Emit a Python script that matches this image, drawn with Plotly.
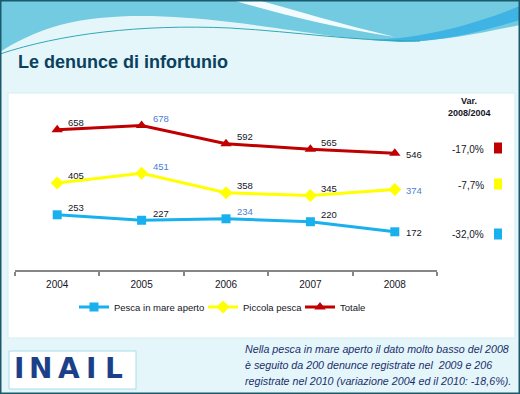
import plotly.graph_objects as go

W, H = 520, 394

years = ["2004", "2005", "2006", "2007", "2008"]
pesca_mare = [253, 227, 234, 220, 172]
piccola_pesca = [405, 451, 358, 345, 374]
totale = [658, 678, 592, 565, 546]

BLK = "#15151f"
BLU = "#4a7fd4"
lab_col_pesca = [BLK, BLK, BLU, BLK, BLK]
lab_col_piccola = [BLK, BLU, BLK, BLK, BLU]
lab_col_tot = [BLK, BLU, BLK, BLK, BLK]

title_text = "Le denunce di infortunio"
note_lines = [
    "Nella pesca in mare aperto il dato molto basso del 2008",
    "è seguito da 200 denunce registrate nel  2009 e 206",
    "registrate nel 2010 (variazione 2004 ed il 2010: -18,6%).",
]

def X(px):
    return px / W

def Y(py):
    return 1 - py / H

def var_pct(s):
    v = (s[-1] - s[0]) / s[0] * 100
    return f"{v:.1f}%".replace(".", ",")

FONT = "Liberation Sans, Arial, sans-serif"

fig = go.Figure()
ann = []

def add_series(name, vals, color, symbol, msize, labcols, legend_id):
    fig.add_trace(go.Scatter(
        x=years, y=vals, name=name, mode="lines+markers",
        line=dict(color=color, width=3),
        marker=dict(color=color, symbol=symbol, size=msize),
        cliponaxis=False, legend=legend_id,
    ))
    for i, v in enumerate(vals):
        last = i == len(vals) - 1
        ann.append(dict(x=i, y=v, xref="x", yref="y", text=str(v), showarrow=False,
            xanchor="center", yanchor="middle", xshift=19, yshift=-1 if last else 7,
            font=dict(family=FONT, size=9.5, color=labcols[i])))

add_series("Pesca in mare aperto", pesca_mare, "#19b0ee", "square", 9, lab_col_pesca, "legend")
add_series("Piccola pesca", piccola_pesca, "#ffff00", "diamond", 10, lab_col_piccola, "legend2")
add_series("Totale", totale, "#c00000", "triangle-up", 10, lab_col_tot, "legend3")

shapes = []
# top decorative band
shapes.append(dict(type="path", xref="paper", yref="paper", layer="below",
    path=f"M {X(0)},{Y(0)} L {X(520)},{Y(0)} L {X(520)},{Y(25)} C {X(480)},{Y(33)} {X(440)},{Y(42)} {X(400)},{Y(41)} "
         f"C {X(340)},{Y(40)} {X(300)},{Y(30)} {X(230)},{Y(22)} C {X(170)},{Y(15)} {X(110)},{Y(12)} {X(60)},{Y(25)} "
         f"C {X(35)},{Y(32)} {X(15)},{Y(42)} {X(0)},{Y(52)} Z",
    fillcolor="#72cbe0", line=dict(width=0)))
shapes.append(dict(type="path", xref="paper", yref="paper", layer="below",
    path=f"M {X(370)},{Y(40)} C {X(430)},{Y(38)} {X(480)},{Y(22)} {X(520)},{Y(6)} L {X(520)},{Y(20)} C {X(480)},{Y(32)} {X(440)},{Y(42)} {X(400)},{Y(42)} Z",
    fillcolor="#3fb3e3", line=dict(width=0)))
shapes.append(dict(type="path", xref="paper", yref="paper", layer="below",
    path=f"M {X(232)},{Y(0)} C {X(280)},{Y(14)} {X(330)},{Y(27)} {X(395)},{Y(37)} C {X(340)},{Y(24)} {X(295)},{Y(10)} {X(258)},{Y(0)} Z",
    fillcolor="#f2fbfd", line=dict(width=0)))
shapes.append(dict(type="path", xref="paper", yref="paper", layer="below",
    path=f"M {X(0)},{Y(54)} C {X(60)},{Y(34)} {X(140)},{Y(24)} {X(230)},{Y(28)} C {X(300)},{Y(32)} {X(350)},{Y(41)} {X(420)},{Y(41)}",
    line=dict(color="#2fa9b6", width=1)))
# white chart panel
shapes.append(dict(type="rect", xref="paper", yref="paper", layer="below",
    x0=X(8), x1=X(515), y0=Y(338), y1=Y(93),
    fillcolor="white", line=dict(color="#d4eef4", width=1)))
# logo box
shapes.append(dict(type="rect", xref="paper", yref="paper", layer="below",
    x0=X(9), x1=X(136), y0=Y(389), y1=Y(351),
    fillcolor="white", line=dict(color="#a9dceb", width=1)))
# variation colour keys
for col, yc in [("#c00000", 148), ("#ffff00", 184), ("#19b0ee", 234)]:
    shapes.append(dict(type="rect", xref="paper", yref="paper",
        x0=X(494), x1=X(502), y0=Y(yc + 5.5), y1=Y(yc - 5.5),
        fillcolor=col, line=dict(width=0)))
# outer border
shapes.append(dict(type="rect", xref="paper", yref="paper",
    x0=0, x1=1, y0=0, y1=1, line=dict(color="#1b5a6c", width=3), fillcolor="rgba(0,0,0,0)"))

ann.append(dict(text=f"<b>{title_text}</b>", x=X(16), y=Y(62), xref="paper", yref="paper",
    xanchor="left", yanchor="middle", showarrow=False,
    font=dict(family=FONT, size=18, color="#0b405e")))
ann.append(dict(text="<b>Var.</b>", x=X(469), y=Y(101), xref="paper", yref="paper",
    xanchor="center", yanchor="middle", showarrow=False, font=dict(family=FONT, size=9, color=BLK)))
ann.append(dict(text="<b>2008/2004</b>", x=X(469), y=Y(113), xref="paper", yref="paper",
    xanchor="center", yanchor="middle", showarrow=False, font=dict(family=FONT, size=9, color=BLK)))
for s, yc in [(totale, 149), (piccola_pesca, 185), (pesca_mare, 234)]:
    ann.append(dict(text=var_pct(s), x=X(486), y=Y(yc), xref="paper", yref="paper",
        xanchor="right", yanchor="middle", showarrow=False, font=dict(family=FONT, size=10, color=BLK)))
for i, line in enumerate(note_lines):
    ann.append(dict(text=f"<i>{line}</i>", x=X(243), y=Y(349 + 16 * i), xref="paper", yref="paper",
        xanchor="left", yanchor="middle", showarrow=False, font=dict(family=FONT, size=10.7, color="#1b2f6e")))
for ch, xc in [("I", 19), ("N", 40), ("A", 69), ("I", 91), ("L", 114)]:
    ann.append(dict(text=f"<b>{ch}</b>", x=X(xc), y=Y(368), xref="paper", yref="paper",
        xanchor="center", yanchor="middle", showarrow=False,
        font=dict(family="DejaVu Sans, sans-serif", size=28, color="#1c3f8a")))

def leg(xpx):
    return dict(orientation="h", x=X(xpx), y=Y(307), xanchor="left", yanchor="middle",
        font=dict(family=FONT, size=9.5, color=BLK), bgcolor="rgba(0,0,0,0)",
        itemwidth=30)

fig.update_layout(
    width=W, height=H,
    margin=dict(l=0, r=0, t=0, b=0),
    paper_bgcolor="#e4f6f9",
    plot_bgcolor="rgba(0,0,0,0)",
    shapes=shapes, annotations=ann,
    showlegend=True,
    legend=leg(74), legend2=leg(203), legend3=leg(300),
    xaxis=dict(domain=[X(15), X(437)], type="category", range=[-0.5, 4.5],
        showline=True, linecolor="#868686", linewidth=2,
        ticks="outside", tickson="boundaries", ticklen=4, tickcolor="#868686", tickwidth=1.5,
        ticklabelstandoff=4,
        showgrid=False, zeroline=False, automargin=False,
        tickfont=dict(family=FONT, size=10, color=BLK), fixedrange=True),
    yaxis=dict(domain=[Y(270), Y(100)], range=[-10, 800], showgrid=False, zeroline=False,
        showticklabels=False, showline=False, automargin=False, fixedrange=True),
)

fig.write_html("out.html", config={"displayModeBar": False},
               post_script="document.body.style.margin='0';document.body.style.padding='0';")
